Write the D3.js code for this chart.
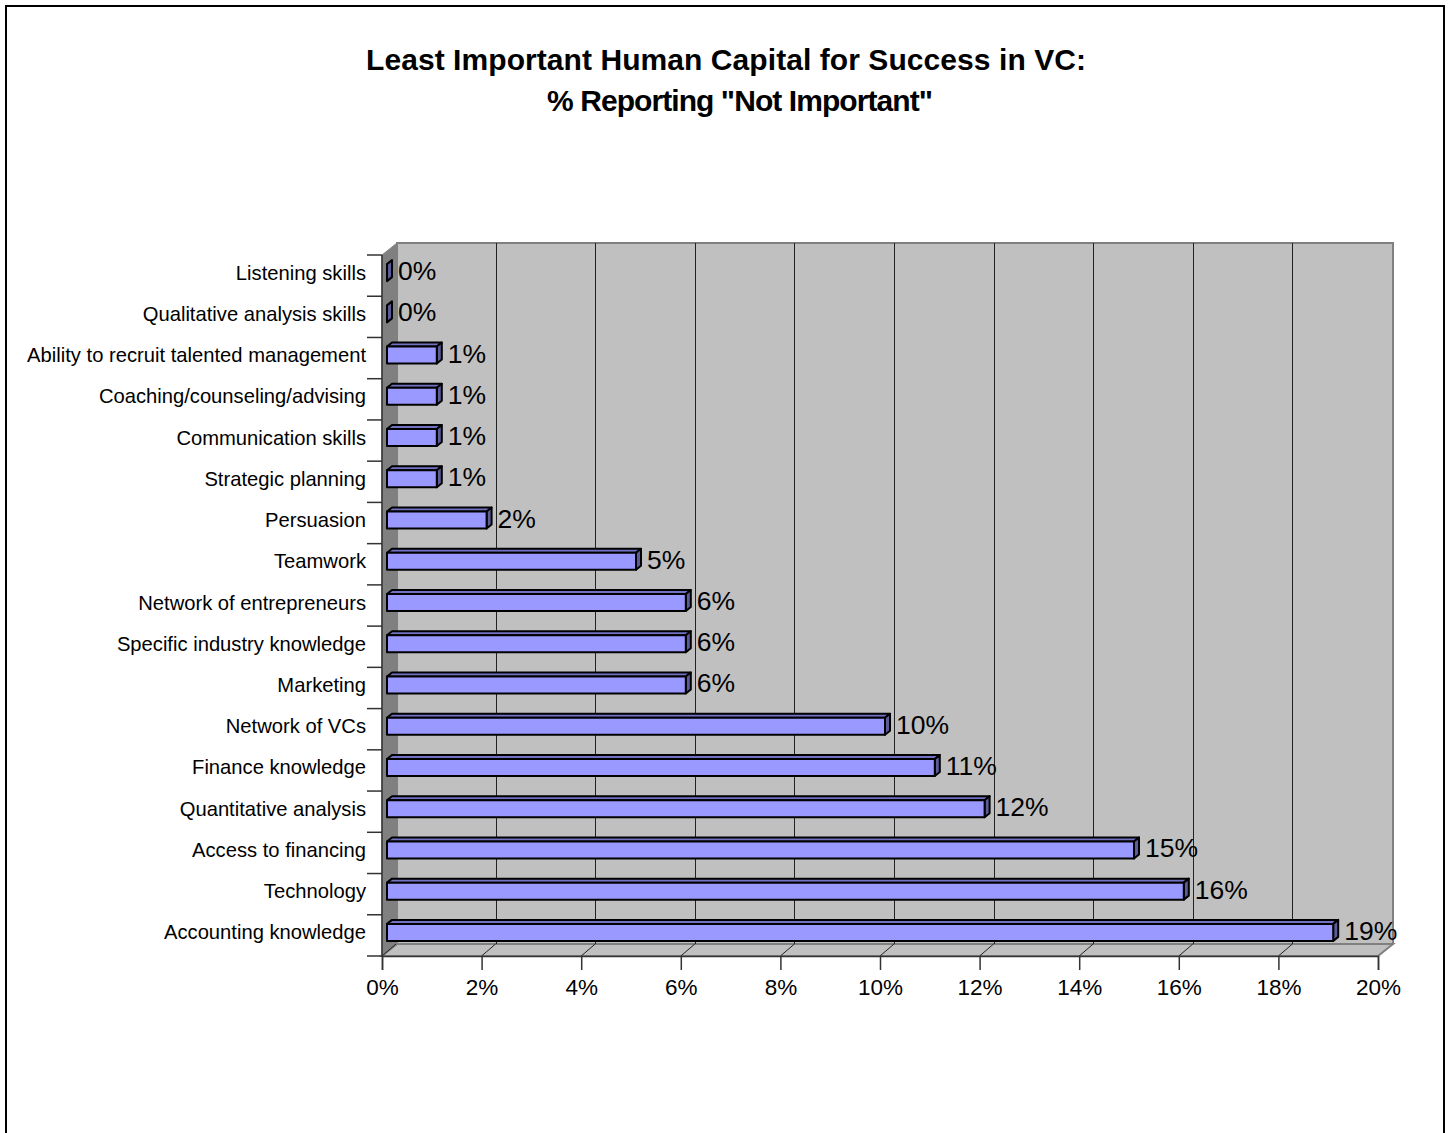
<!DOCTYPE html>
<html>
<head>
<meta charset="utf-8">
<script src="https://d3js.org/d3.v7.min.js"></script>
<style>
  html, body { margin: 0; padding: 0; background: #fff; overflow: hidden; }
  text { font-family: "Liberation Sans", Arial, sans-serif; fill: #000; }
</style>
</head>
<body>
<div id="chart"></div>
<script>
const titleLines = ['Least Important Human Capital for Success in VC:', '% Reporting "Not Important"'];
// bottom to top, same order the axis runs
const categories = ['Accounting knowledge', 'Technology', 'Access to financing', 'Quantitative analysis',
    'Finance knowledge', 'Network of VCs', 'Marketing', 'Specific industry knowledge',
    'Network of entrepreneurs', 'Teamwork', 'Persuasion', 'Strategic planning',
    'Communication skills', 'Coaching/counseling/advising', 'Ability to recruit talented management',
    'Qualitative analysis skills', 'Listening skills'];
const values = [19, 16, 15, 12, 11, 10, 6, 6, 6, 5, 2, 1, 1, 1, 1, 0, 0];
const xTicks = [0, 2, 4, 6, 8, 10, 12, 14, 16, 18, 20];

const chartW = 1451, chartH = 1133;
// 3d offset of the back wall
const depthX = 15, depthY = 12;
const barDepthX = 5, barDepthY = 4;

const svg = d3.select('#chart').append('svg')
    .attr('width', chartW)
    .attr('height', chartH)
    .style('display', 'block');

svg.append('rect')
    .attr('x', 6).attr('y', 6)
    .attr('width', 1438).attr('height', chartH + 20)
    .attr('fill', '#fff').attr('stroke', '#000').attr('stroke-width', 2);

// second line sits off centre in the original, and the widths differ from plain Arial
const titleX = [726, 740], titleLen = [720, 386];
svg.selectAll('.title').data(titleLines).enter().append('text')
    .attr('class', 'title')
    .attr('x', (d, i) => titleX[i])
    .attr('y', (d, i) => 70 + i * 41)
    .attr('text-anchor', 'middle')
    .attr('font-size', 30)
    .attr('font-weight', 'bold')
    .attr('textLength', (d, i) => titleLen[i])
    .attr('lengthAdjust', 'spacing')
    .text(d => d);

const x = d3.scaleLinear().domain([0, 20]).range([382, 1378]);
const y = d3.scaleBand().domain(categories).range([956, 255]);
const plotL = x(0), plotR = x(20), plotB = y.range()[0], plotT = y.range()[1];

function poly(pts) { return 'M' + pts.map(p => p.join(',')).join('L') + 'Z'; }

// back wall, left wall, floor
svg.append('path')
    .attr('d', poly([[plotL + depthX, plotT - depthY], [plotR + depthX, plotT - depthY], [plotR + depthX, plotB - depthY], [plotL + depthX, plotB - depthY]]))
    .attr('fill', '#c0c0c0').attr('stroke', '#808080').attr('stroke-width', 2);
svg.append('path')
    .attr('d', poly([[plotL, plotT], [plotL + depthX, plotT - depthY], [plotL + depthX, plotB - depthY], [plotL, plotB]]))
    .attr('fill', '#808080').attr('stroke', '#808080');
svg.append('path')
    .attr('d', poly([[plotL, plotB], [plotL + depthX, plotB - depthY], [plotR + depthX, plotB - depthY], [plotR, plotB]]))
    .attr('fill', '#c0c0c0').attr('stroke', '#808080').attr('stroke-width', 2);

// grid on wall and floor
const grid = svg.append('g').attr('stroke', '#222').attr('stroke-width', 1).attr('fill', 'none');
grid.selectAll('.wall').data(xTicks.slice(1, -1)).enter().append('line')
    .attr('class', 'wall')
    .attr('x1', d => Math.round(x(d) + depthX - 1) + 0.5).attr('x2', d => Math.round(x(d) + depthX - 1) + 0.5)
    .attr('y1', plotT - depthY).attr('y2', plotB - depthY);
grid.selectAll('.floor').data(xTicks.slice(0, -1)).enter().append('line')
    .attr('class', 'floor')
    .attr('x1', d => x(d)).attr('x2', d => x(d) + depthX - 1)
    .attr('y1', plotB).attr('y2', plotB - depthY);

// axes
const xAxis = svg.append('g')
    .attr('transform', `translate(0,${plotB})`)
    .call(d3.axisBottom(x).tickValues(xTicks).tickFormat(d => d + '%').tickSize(14).tickPadding(9));
xAxis.selectAll('text').attr('font-size', 22.5).attr('font-family', null);
const yTickPos = d3.range(categories.length + 1).map(i => plotB + (plotT - plotB) * i / categories.length);
const yAxis = svg.append('g');
yAxis.selectAll('line').data(yTickPos).enter().append('line')
    .attr('x1', plotL - 15).attr('x2', plotL)
    .attr('y1', d => d).attr('y2', d => d);
yAxis.append('line').attr('x1', plotL).attr('x2', plotL).attr('y1', plotT).attr('y2', plotB);
xAxis.selectAll('line,path').attr('stroke', '#333').attr('stroke-width', 1.5);
yAxis.selectAll('line').attr('stroke', '#333').attr('stroke-width', 1.5);

svg.selectAll('.cat').data(categories).enter().append('text')
    .attr('class', 'cat')
    .attr('x', plotL - 16)
    .attr('y', d => y(d) + y.bandwidth() / 2 + 4)
    .attr('text-anchor', 'end')
    .attr('font-size', 20.2)
    .text(d => d);

// bars
const rows = categories.map((c, i) => ({ name: c, value: values[i] }));
const barH = 17;
const bars = svg.selectAll('.bar').data(rows).enter().append('g')
    .attr('class', 'bar')
    .attr('stroke', '#000').attr('stroke-width', 2).attr('stroke-linejoin', 'round');

function faceTop(d) { return y(d.name) + y.bandwidth() / 2 - 11.5; }
function barStart() { return x(0) + barDepthX; }
function barEnd(d) { return x(d.value) + barDepthX; }

bars.filter(d => d.value > 0).append('path')
    .attr('fill', '#7272c4')
    .attr('d', d => poly([[barStart(), faceTop(d)], [barStart() + barDepthX, faceTop(d) - barDepthY], [barEnd(d) + barDepthX, faceTop(d) - barDepthY], [barEnd(d), faceTop(d)]]));
bars.append('path')
    .attr('fill', '#5c5c99')
    .attr('d', d => poly([[barEnd(d), faceTop(d)], [barEnd(d) + barDepthX, faceTop(d) - barDepthY], [barEnd(d) + barDepthX, faceTop(d) - barDepthY + barH], [barEnd(d), faceTop(d) + barH]]));
bars.filter(d => d.value > 0).append('rect')
    .attr('fill', '#9999ff')
    .attr('x', barStart())
    .attr('y', faceTop)
    .attr('width', d => barEnd(d) - barStart())
    .attr('height', barH);

svg.selectAll('.val').data(rows).enter().append('text')
    .attr('class', 'val')
    .attr('x', d => barEnd(d) + barDepthX + 6)
    .attr('y', d => faceTop(d) + barH - 1)
    .attr('font-size', 26.5)
    .text(d => d.value + '%');
</script>
</body>
</html>
